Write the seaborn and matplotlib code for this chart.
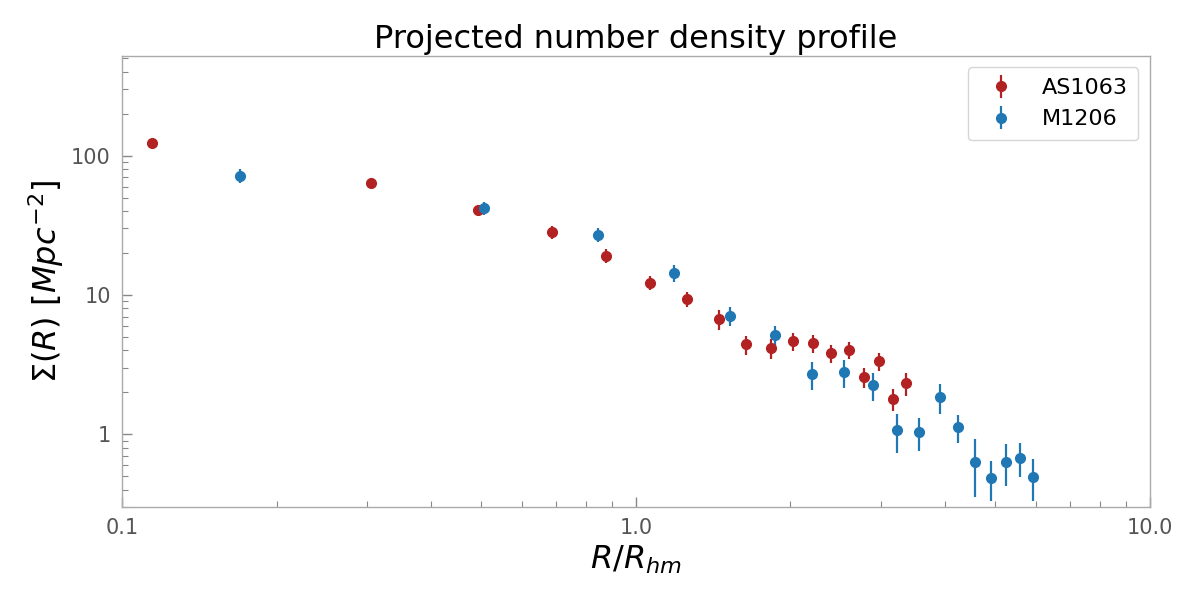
import numpy as np
import pandas as pd
import seaborn as sns
import matplotlib.pyplot as plt
from matplotlib.ticker import FixedLocator, FixedFormatter, NullFormatter

sns.set_style("white")
plt.rcParams["font.family"] = ["DejaVu Sans"]
plt.rcParams["text.color"] = "black"
plt.rcParams["axes.labelcolor"] = "black"

# AS1063 profile
as_r = [0.1146, 0.305, 0.494, 0.687, 0.874, 1.064, 1.258, 1.45, 1.639, 1.833,
        2.02, 2.21, 2.40, 2.60, 2.78, 2.97, 3.17, 3.35]
as_sigma = [123.0, 64.0, 40.4, 28.3, 19.1, 12.2, 9.31, 6.72, 4.42, 4.14,
            4.64, 4.49, 3.81, 4.02, 2.56, 3.33, 1.78, 2.32]
as_err = [8.0, 5.0, 3.3, 2.9, 2.2, 1.4, 1.15, 1.08, 0.69, 0.67,
          0.66, 0.64, 0.58, 0.58, 0.41, 0.50, 0.32, 0.45]

# M1206 profile
m_r = [0.1694, 0.507, 0.843, 1.186, 1.523, 1.866, 2.20, 2.54, 2.89, 3.22,
       3.56, 3.91, 4.24, 4.57, 4.91, 5.25, 5.59, 5.93]
m_sigma = [72.0, 42.0, 27.0, 14.3, 7.06, 5.13, 2.69, 2.78, 2.24, 1.063,
           1.03, 1.84, 1.12, 0.636, 0.488, 0.636, 0.680, 0.496]
m_err = [8.0, 4.5, 3.1, 2.0, 1.1, 0.85, 0.60, 0.62, 0.50, 0.33,
         0.27, 0.44, 0.26, 0.28, 0.155, 0.21, 0.19, 0.165]

df = pd.concat([
    pd.DataFrame({"cluster": "AS1063", "r": as_r, "sigma": as_sigma, "err": as_err}),
    pd.DataFrame({"cluster": "M1206", "r": m_r, "sigma": m_sigma, "err": m_err}),
])
colors = {"AS1063": "#b22222", "M1206": "#1f77b4"}

fig, ax = plt.subplots(figsize=(12, 6), dpi=100)
fig.subplots_adjust(left=0.1017, right=0.958, top=0.9067, bottom=0.155)

for name, grp in df.groupby("cluster", sort=False):
    ax.errorbar(grp["r"], grp["sigma"], yerr=grp["err"], fmt="o",
                color=colors[name], ms=7, elinewidth=1.6, capsize=0,
                label=name)

ax.set_xscale("log")
ax.set_yscale("log")
ax.set_xlim(0.1, 10)
ax.set_ylim(0.3, 520)

ax.xaxis.set_major_locator(FixedLocator([0.1, 1.0, 10.0]))
ax.xaxis.set_major_formatter(FixedFormatter(["0.1", "1.0", "10.0"]))
ax.xaxis.set_minor_formatter(NullFormatter())
ax.yaxis.set_major_locator(FixedLocator([1, 10, 100]))
ax.yaxis.set_major_formatter(FixedFormatter(["1", "10", "100"]))
ax.yaxis.set_minor_formatter(NullFormatter())

ax.tick_params(which="both", direction="in", colors="#888888",
               labelcolor="#555555", labelsize=15)
ax.tick_params(which="major", length=7, width=1, pad=8)
ax.tick_params(which="minor", length=4, width=0.8)
ax.tick_params(axis="x", which="both", bottom=True)
ax.tick_params(axis="y", which="both", left=True)
for s in ax.spines.values():
    s.set_color("#aaaaaa")
    s.set_linewidth(1)

ax.set_title("Projected number density profile", fontsize=23, pad=6)
ax.set_xlabel(r"$R/R_{hm}$", fontsize=23)
ax.set_ylabel(r"$\Sigma(R)\ [Mpc^{-2}]$", fontsize=23)

leg = ax.legend(loc="upper right", fontsize=16, frameon=True,
                edgecolor="#cccccc", borderpad=0.5, labelspacing=0.5)
for t in leg.get_texts():
    t.set_color("black")

fig.savefig("out.png", dpi=100)
plt.close(fig)
